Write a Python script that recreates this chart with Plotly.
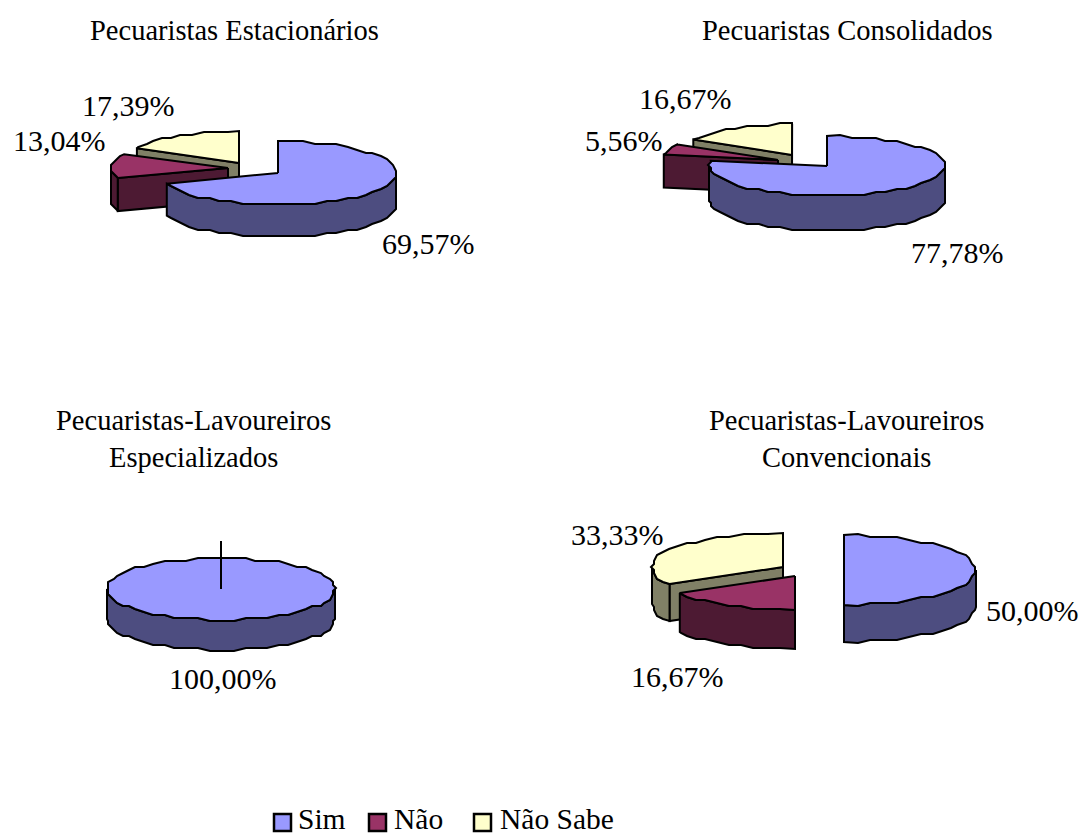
import math
import plotly.graph_objects as go

# Survey shares, in percent, per producer group
categories = ["Sim", "Não", "Não Sabe"]
estacionarios = [69.57, 13.04, 17.39]
consolidados = [77.78, 5.56, 16.67]
especializados = [100.00]
convencionais = [50.00, 16.67, 33.33]

# Slice colours: top face and shaded wall
TOP = ["#9999FF", "#993366", "#FFFFCC"]
WALL = ["#4D4D80", "#4D1A33", "#808066"]

FONT = "Liberation Serif"
GRID = 3  # outline coordinates snap to this pixel step
ARC_STEP = 6  # degrees between outline vertices
OUTLINE = 2

# Layout of each exploded slice: apex x, apex y, radius x, radius y, depth
estacionarios_geom = [(278, 173, 118, 32, 32), (228, 168, 117, 30, 33), (239, 163, 115, 32, 32)]
consolidados_geom = [(827, 166, 118, 30, 35), (778, 160, 116, 31, 33), (792, 155, 114, 31, 32)]
especializados_geom = [(221, 589, 114, 31, 30)]
convencionais_geom = [(844, 570, 132, 35, 37), (795, 576, 133, 34, 39), (783, 567, 131, 34, 37)]

# Legend layout: swatch left edge and label left edge
legend_swatch_x = [274, 369, 474]
legend_text_x = [298, 394, 500]

fig = go.Figure()


def snap(v):
    return round(v / GRID) * GRID


def arc(cx, cy, rx, ry, a, b):
    """Points along an elliptical arc, clockwise from 12 o'clock, in degrees.

    Interior vertices sit on a fixed angle grid, so a rim and the top face
    above it share the same outline.
    """
    k0 = math.floor(a / ARC_STEP) + 1
    k1 = math.ceil(b / ARC_STEP) - 1
    inner = [k * ARC_STEP for k in range(k0, k1 + 1)]
    pts = []
    for ang in [a] + inner + [b]:
        t = math.radians(ang)
        x = cx + rx * math.sin(t)
        y = cy - ry * math.cos(t)
        pts.append((x, y) if ang in (a, b) else (snap(x), snap(y)))
    return pts


def polygon(pts, color):
    xs = [p[0] for p in pts] + [pts[0][0]]
    ys = [p[1] for p in pts] + [pts[0][1]]
    fig.add_trace(go.Scatter(
        x=xs, y=ys, mode="lines", fill="toself", fillcolor=color,
        line=dict(color="black", width=OUTLINE, simplify=False),
        hoverinfo="skip", showlegend=False,
    ))


def draw_pie(values, geom):
    start = [sum(values[:i]) * 3.6 for i in range(len(values))]
    end = [sum(values[:i + 1]) * 3.6 for i in range(len(values))]
    # Painted back to front, last category first
    for i in reversed(range(len(values))):
        cx, cy, rx, ry, d = geom[i]
        a, b = start[i], end[i]
        whole = b - a >= 359.9
        if not whole:
            for ang, visible in ((a, math.sin(math.radians(a)) < -1e-6),
                                 (b, math.sin(math.radians(b)) > 1e-6)):
                if visible:
                    t = math.radians(ang)
                    ox, oy = cx + rx * math.sin(t), cy - ry * math.cos(t)
                    polygon([(cx, cy), (ox, oy), (ox, oy + d), (cx, cy + d)], WALL[i])
        lo, hi = max(a, 90), min(b, 270)
        if hi > lo:
            rim = arc(cx, cy, rx, ry, lo, hi)
            polygon(rim + [(x, y + d) for x, y in reversed(rim)], WALL[i])
        top = arc(cx, cy, rx, ry, a, b)
        polygon(top if whole else [(cx, cy)] + top, TOP[i])
        if whole:
            fig.add_trace(go.Scatter(
                x=[cx, cx], y=[cy, cy - ry * 1.55], mode="lines",
                line=dict(color="black", width=OUTLINE), hoverinfo="skip", showlegend=False,
            ))


draw_pie(estacionarios, estacionarios_geom)
draw_pie(consolidados, consolidados_geom)
draw_pie(especializados, especializados_geom)
draw_pie(convencionais, convencionais_geom)


def fmt(v):
    return f"{v:.2f}".replace(".", ",") + "%"


def text(x, y, s, size=30, anchor="center"):
    fig.add_annotation(x=x, y=y, text=s, showarrow=False, xref="x", yref="y",
                       xanchor=anchor, yanchor="middle", borderpad=0, borderwidth=0,
                       font=dict(family=FONT, size=size, color="black"))


TITLE = 28.5
text(234, 30, "Pecuaristas Estacionários", TITLE)
text(847, 30, "Pecuaristas Consolidados", TITLE)
text(193, 439, "Pecuaristas-Lavoureiros<br>Especializados", TITLE)
text(846, 439, "Pecuaristas-Lavoureiros<br>Convencionais", TITLE)

text(428, 243, fmt(estacionarios[0]))
text(59, 140, fmt(estacionarios[1]))
text(128, 105, fmt(estacionarios[2]))
text(957, 252, fmt(consolidados[0]))
text(624, 140, fmt(consolidados[1]))
text(685, 98, fmt(consolidados[2]))
text(223, 678, fmt(especializados[0]))
text(1032, 610, fmt(convencionais[0]))
text(677, 676, fmt(convencionais[1]))
text(617, 534, fmt(convencionais[2]))

# Legend row along the bottom edge
for name, color, sx, tx in zip(categories, TOP, legend_swatch_x, legend_text_x):
    fig.add_shape(type="rect", xref="x", yref="y", x0=sx, x1=sx + 17, y0=814, y1=831,
                  fillcolor=color, line=dict(color="black", width=2.5))
    text(tx, 818.5, name, 29.5, anchor="left")

fig.update_layout(
    width=1082, height=836,
    margin=dict(l=0, r=0, t=0, b=0),
    paper_bgcolor="white", plot_bgcolor="white",
    showlegend=False,
    xaxis=dict(range=[0, 1082], visible=False, fixedrange=True),
    yaxis=dict(range=[836, 0], visible=False, fixedrange=True),
)

fig.write_html("out.html")
